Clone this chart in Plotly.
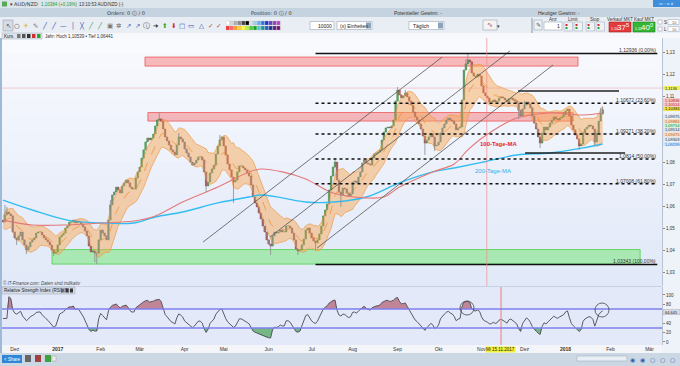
import numpy as np
import pandas as pd
import plotly.graph_objects as go

# ---------------- data ----------------
start_date = "2016-11-23"
first_open = 1.0536
closes = [
    1.0527, 1.0559, 1.0573, 1.0564, 1.0555, 1.0482, 1.0455, 1.0446, 1.0464, 1.0482,
    1.0446, 1.0423, 1.0400, 1.0414, 1.0436, 1.0446, 1.0455, 1.0477, 1.0482, 1.0482,
    1.0468, 1.0455, 1.0446, 1.0436, 1.0423, 1.0400, 1.0386, 1.0391, 1.0423, 1.0459,
    1.0468, 1.0477, 1.0500, 1.0509, 1.0527, 1.0527, 1.0536, 1.0523, 1.0532, 1.0527,
    1.0518, 1.0505, 1.0486, 1.0464, 1.0418, 1.0391, 1.0396, 1.0386, 1.0386, 1.0446,
    1.0491, 1.0477, 1.0464, 1.0446, 1.0536, 1.0605, 1.0650, 1.0664, 1.0686, 1.0673,
    1.0659, 1.0691, 1.0705, 1.0718, 1.0705, 1.0686, 1.0677, 1.0677, 1.0727, 1.0755,
    1.0777, 1.0818, 1.0855, 1.0891, 1.0909, 1.0900, 1.0909, 1.0927, 1.0964, 1.0991,
    1.0996, 1.0986, 1.0950, 1.0914, 1.0896, 1.0877, 1.0855, 1.0845, 1.0832, 1.0877,
    1.0914, 1.0905, 1.0891, 1.0859, 1.0841, 1.0823, 1.0800, 1.0786, 1.0795, 1.0809,
    1.0823, 1.0823, 1.0809, 1.0755, 1.0691, 1.0709, 1.0750, 1.0768, 1.0786, 1.0836,
    1.0873, 1.0900, 1.0914, 1.0873, 1.0832, 1.0791, 1.0764, 1.0732, 1.0709, 1.0718,
    1.0755, 1.0782, 1.0782, 1.0773, 1.0764, 1.0750, 1.0736, 1.0696, 1.0641, 1.0614,
    1.0596, 1.0568, 1.0541, 1.0509, 1.0482, 1.0446, 1.0427, 1.0418, 1.0464, 1.0482,
    1.0477, 1.0482, 1.0491, 1.0482, 1.0482, 1.0509, 1.0509, 1.0500, 1.0477, 1.0446,
    1.0405, 1.0396, 1.0400, 1.0423, 1.0450, 1.0491, 1.0500, 1.0477, 1.0455, 1.0441,
    1.0432, 1.0446, 1.0473, 1.0509, 1.0555, 1.0582, 1.0609, 1.0673, 1.0736, 1.0777,
    1.0800, 1.0718, 1.0664, 1.0650, 1.0682, 1.0677, 1.0659, 1.0646, 1.0655, 1.0709,
    1.0714, 1.0705, 1.0732, 1.0755, 1.0795, 1.0809, 1.0795, 1.0791, 1.0786, 1.0818,
    1.0836, 1.0841, 1.0845, 1.0855, 1.0900, 1.0936, 1.0955, 1.0959, 1.0955, 1.0964,
    1.0991, 1.1077, 1.1127, 1.1105, 1.1091, 1.1100, 1.1114, 1.1096, 1.1077, 1.1059,
    1.1027, 1.1005, 1.0991, 1.0973, 1.0950, 1.0918, 1.0886, 1.0900, 1.0914, 1.0927,
    1.0914, 1.0873, 1.0877, 1.0891, 1.0932, 1.0955, 1.0973, 1.0991, 1.1000, 1.0991,
    1.0986, 1.0973, 1.0946, 1.0955, 1.0959, 1.1082, 1.1218, 1.1246, 1.1264, 1.1255,
    1.1205, 1.1191, 1.1186, 1.1200, 1.1191, 1.1146, 1.1114, 1.1100, 1.1091, 1.1073,
    1.1073, 1.1082, 1.1073, 1.1077, 1.1091, 1.1096, 1.1091, 1.1082, 1.1073, 1.1087,
    1.1091, 1.1082, 1.1077, 1.1068, 1.1036, 1.1009, 1.1041, 1.1059, 1.1073, 1.1064,
    1.1046, 1.1009, 1.0977, 1.0950, 1.0914, 1.0886, 1.0932, 1.0959, 1.0946, 1.0959,
    1.0977, 1.0991, 1.1005, 1.0996, 1.0991, 1.1000, 1.1005, 1.1014, 1.1032, 1.1041,
    1.1009, 1.0968, 1.0946, 1.0923, 1.0905, 1.0873, 1.0882, 1.0932, 1.0950, 1.0959,
    1.0968, 1.0964, 1.0950, 1.0891, 1.0932, 1.0986, 1.1018, 1.1038,
]
# visible long wicks (day index -> extreme)
wick_highs = {1: 1.0605, 2: 1.0596, 55: 1.0627, 80: 1.1023, 90: 1.0932, 104: 1.0714,
              111: 1.0923, 170: 1.0818, 202: 1.1141, 206: 1.1127, 238: 1.1294,
              237: 1.1268, 267: 1.1077, 287: 1.1027, 306: 1.1046, 307: 1.1050}
wick_lows = {7: 1.0423, 12: 1.0382, 26: 1.0373, 47: 1.0345, 48: 1.0336, 104: 1.0664,
             118: 1.0614, 137: 1.0377, 151: 1.0377, 160: 1.0400, 173: 1.0596,
             216: 1.0832, 221: 1.0850, 264: 1.0995, 275: 1.0864, 295: 1.0855, 303: 1.0873}

ma100_idx = [0, 15, 33, 50, 67, 78, 92, 110, 126, 132, 143, 155, 169, 186, 195, 203, 220, 231, 238, 246, 263, 280, 297, 307]
ma100_val = [1.0536, 1.0514, 1.0514, 1.0523, 1.0532, 1.0555, 1.0618, 1.0686, 1.0755, 1.0768, 1.0755, 1.0723,
             1.0659, 1.0637, 1.0641, 1.0686, 1.0755, 1.0791, 1.0855, 1.0914, 1.1000, 1.1023, 1.1014, 1.1023]
ma200_idx = [0, 15, 33, 50, 67, 78, 92, 110, 126, 132, 143, 155, 169, 186, 203, 220, 231, 246, 263, 280, 297, 307]
ma200_val = [1.0627, 1.0582, 1.0536, 1.0523, 1.0523, 1.0550, 1.0573, 1.0614, 1.0641, 1.0650, 1.0637, 1.0618,
             1.0618, 1.0641, 1.0705, 1.0755, 1.0773, 1.0800, 1.0832, 1.0841, 1.0864, 1.0882]

band_period, band_k = 10, 2.5
rsi_last_label = 64.645

fib_high, fib_low = 1.12936, 1.03343
fib_pcts = [0.0, 23.6, 38.2, 50.0, 61.8, 100.0]
fib_start_idx = 160
fib_end_idx = 335

# zones: (x0 idx, x1 idx, low price, high price)
red_zones = [(72.7, 294.4, 1.1236, 1.1277), (74.2, 291.9, 1.0986, 1.1025)]
green_zones = [(25.1, 326.2, 1.0336, 1.0402)]
# trend channel lines: (idx0, price0, idx1, price1)
channel_lines = [(102.4, 1.0436, 224.8, 1.1277), (136.7, 1.0459, 259.6, 1.1305), (160.8, 1.0409, 281.6, 1.1241)]
# support/resistance segments
level_lines = [(263.7, 315.4, 1.1123), (267.3, 318.5, 1.0841)]
crosshair_price = 1.1136
crosshair_idx_main = 247.7
crosshair_date = "2017-11-15"
price_ticks = [1.03, 1.04, 1.05, 1.06, 1.07, 1.08, 1.11, 1.12, 1.13]
rsi_ticks = [0, 20, 40, 80, 100]

month_names = {1: "Jan", 2: "Feb", 3: "Mär", 4: "Apr", 5: "Mai", 6: "Jun", 7: "Jul",
               8: "Aug", 9: "Sep", 10: "Okt", 11: "Nov", 12: "Dez"}

# ---------------- derived series ----------------
c = np.array(closes)
n = len(c)
idx = np.arange(n)
o = np.r_[first_open, c[:-1]]
hi = np.maximum(o, c)
lo = np.minimum(o, c)
for k, v in wick_highs.items():
    hi[k] = max(hi[k], v)
for k, v in wick_lows.items():
    lo[k] = min(lo[k], v)

s = pd.Series(c)
# envelope: EMA centre +/- k * ATR
mid = s.ewm(span=band_period, adjust=False).mean()
tr = pd.Series(hi - lo)
atr = tr.ewm(alpha=1 / band_period, adjust=False).mean()
bb_up, bb_dn = mid + band_k * atr, mid - band_k * atr

d = s.diff()
ag = d.clip(lower=0).ewm(alpha=1 / 9, adjust=False).mean()
al = (-d.clip(upper=0)).ewm(alpha=1 / 9, adjust=False).mean()
rsi = (100 - 100 / (1 + ag / al.replace(0, np.nan))).fillna(50)

all_days = pd.bdate_range(start_date, "2018-03-31")
tickvals, ticktext = [], []
prev_m = None
for i, dt in enumerate(all_days):
    if dt.month != prev_m:
        if prev_m is not None:
            tickvals.append(i)
            ticktext.append("<b>%d</b>" % dt.year if dt.month == 1 else month_names[dt.month])
        prev_m = dt.month
cross_rsi_idx = int(np.where(all_days == pd.Timestamp(crosshair_date))[0][0])

# ---------------- pixel helpers (layout only) ----------------
W, H = 680, 366
def X(px):
    return px / W
def Y(py):
    return 1 - py / H

shapes, annotations = [], []

def rect(x0, y0, x1, y1, fill, line=None, lw=0, layer="above"):
    shapes.append(dict(type="rect", xref="paper", yref="paper", x0=X(x0), x1=X(x1), y0=Y(y1), y1=Y(y0),
                       fillcolor=fill, line=dict(color=line or fill, width=lw), layer=layer))

def text(x, y, s_, size=6, color="#222", anchor="left", bg=None, font="Liberation Sans"):
    a = dict(xref="paper", yref="paper", x=X(x), y=Y(y), text=s_, showarrow=False, xanchor=anchor,
             yanchor="middle", font=dict(size=size, color=color, family=font), borderpad=0)
    if bg:
        a["bgcolor"] = bg
    annotations.append(a)

# ---------------- backgrounds ----------------
rect(0, 0, 680, 366, "#e8eef6", layer="below")
top_c = np.array([248, 250, 254]); bot_c = np.array([226, 233, 248])
nb = 16
for k in range(nb):
    y0 = 38 + k * (286 - 38) / nb
    y1 = 38 + (k + 1) * (286 - 38) / nb
    col = top_c + (bot_c - top_c) * k / (nb - 1)
    rect(0, y0, 662, y1 + 0.5, "rgb(%d,%d,%d)" % tuple(col), layer="below")
rect(0, 286, 662, 345, "#e3e9f8", layer="below")
rect(662, 38, 680, 353, "#eef2f9", layer="below")
rect(0, 345, 662, 353, "#f3f5f9", layer="below")
rect(0, 286, 662, 287, "#c6d2e4", layer="below")

# ---------------- traces ----------------
traces = []
traces.append(go.Scatter(x=idx, y=bb_dn, mode="lines", line=dict(color="rgba(240,150,60,0.8)", width=0.8),
                         hoverinfo="skip", showlegend=False))
traces.append(go.Scatter(x=idx, y=bb_up, mode="lines", line=dict(color="rgba(240,150,60,0.8)", width=0.8),
                         fill="tonexty", fillcolor="rgba(247,170,90,0.5)", hoverinfo="skip", showlegend=False))
traces.append(go.Scatter(x=idx, y=mid, mode="lines", line=dict(color="rgba(235,140,50,0.85)", width=0.8, dash="dash"),
                         hoverinfo="skip", showlegend=False))
traces.append(go.Scatter(x=ma200_idx, y=ma200_val, mode="lines", line=dict(color="#33bdf2", width=1.4, shape="spline"),
                         showlegend=False))
traces.append(go.Scatter(x=ma100_idx, y=ma100_val, mode="lines", line=dict(color="#e57878", width=1.1, shape="spline"),
                         showlegend=False))
wx, wy = [], []
for i in idx:
    wx += [i, i, None]
    wy += [lo[i], hi[i], None]
traces.append(go.Scatter(x=wx, y=wy, mode="lines", line=dict(color="#8a8a8a", width=0.8), hoverinfo="skip",
                         showlegend=False))
body_lo = np.minimum(o, c)
body_h = np.maximum(np.abs(c - o), 0.00012)
up = c >= o
traces.append(go.Bar(x=idx, y=body_h, base=body_lo, width=0.8,
                     marker=dict(color=np.where(up, "#3aa83a", "#c93a3a"),
                                 line=dict(color=np.where(up, "#1f6e1f", "#7a2020"), width=0.4)),
                     showlegend=False))

# RSI panel
traces.append(go.Scatter(x=idx, y=np.full(n, 70.0), mode="lines", line=dict(width=0), xaxis="x2", yaxis="y2",
                         hoverinfo="skip", showlegend=False))
traces.append(go.Scatter(x=idx, y=np.maximum(rsi, 70), mode="lines", line=dict(width=0), fill="tonexty",
                         fillcolor="rgba(180,100,120,0.75)", xaxis="x2", yaxis="y2", hoverinfo="skip", showlegend=False))
traces.append(go.Scatter(x=idx, y=np.full(n, 30.0), mode="lines", line=dict(width=0), xaxis="x2", yaxis="y2",
                         hoverinfo="skip", showlegend=False))
traces.append(go.Scatter(x=idx, y=np.minimum(rsi, 30), mode="lines", line=dict(width=0), fill="tonexty",
                         fillcolor="rgba(80,165,95,0.75)", xaxis="x2", yaxis="y2", hoverinfo="skip", showlegend=False))
traces.append(go.Scatter(x=idx, y=rsi, mode="lines", line=dict(color="#4a4a52", width=0.9), xaxis="x2", yaxis="y2",
                         showlegend=False))

fig = go.Figure(traces)

# ---------------- data-anchored decorations ----------------
for x0, x1, p0, p1 in red_zones:
    shapes.append(dict(type="rect", xref="x", yref="y", x0=x0, x1=x1, y0=p0, y1=p1,
                       fillcolor="rgba(245,120,120,0.5)", line=dict(color="rgba(235,90,90,0.8)", width=1), layer="below"))
for x0, x1, p0, p1 in green_zones:
    shapes.append(dict(type="rect", xref="x", yref="y", x0=x0, x1=x1, y0=p0, y1=p1,
                       fillcolor="rgba(120,230,120,0.55)", line=dict(color="rgba(90,210,90,0.9)", width=1), layer="below"))
for i0, p0, i1, p1 in channel_lines:
    shapes.append(dict(type="line", xref="x", yref="y", x0=i0, x1=i1, y0=p0, y1=p1,
                       line=dict(color="#555", width=0.8)))
for i0, i1, p in level_lines:
    shapes.append(dict(type="line", xref="x", yref="y", x0=i0, x1=i1, y0=p, y1=p,
                       line=dict(color="#222", width=1.5)))
for pct in fib_pcts:
    lvl = fib_high - (fib_high - fib_low) * pct / 100
    solid = pct in (0.0, 100.0)
    shapes.append(dict(type="line", xref="x", yref="y", x0=fib_start_idx, x1=fib_end_idx, y0=lvl, y1=lvl,
                       line=dict(color="#111", width=1.5, dash="solid" if solid else "dot")))
    lab = ("%.5f" % (lvl + 1e-9)).rstrip("0").replace(".", ",") + " (" + ("%.2f" % pct).replace(".", ",") + "%)"
    annotations.append(dict(xref="x", yref="y", x=fib_end_idx, y=lvl, text=lab, showarrow=False, xanchor="right",
                            yanchor="bottom", yshift=-1, borderpad=0,
                            font=dict(size=5, color="#333", family="Liberation Sans")))

# crosshair
shapes.append(dict(type="line", xref="paper", yref="y", x0=X(2), x1=X(662), y0=crosshair_price, y1=crosshair_price,
                   line=dict(color="rgba(240,150,150,0.45)", width=1)))
shapes.append(dict(type="line", xref="x", yref="paper", x0=crosshair_idx_main, x1=crosshair_idx_main, y0=Y(286), y1=Y(33),
                   line=dict(color="rgba(240,140,140,0.7)", width=1)))
shapes.append(dict(type="line", xref="x", yref="paper", x0=cross_rsi_idx, x1=cross_rsi_idx, y0=Y(345), y1=Y(287),
                   line=dict(color="rgba(240,140,140,0.8)", width=1.5)))
# RSI levels
for lv in (70, 30):
    shapes.append(dict(type="line", xref="paper", yref="y2", x0=X(2), x1=X(662), y0=lv, y1=lv,
                       line=dict(color="#7f7ff0", width=1.5)))
# RSI circles
for cx, cy in ((467, 308), (602, 310)):
    shapes.append(dict(type="circle", xref="paper", yref="paper", x0=X(cx - 7), x1=X(cx + 7), y0=Y(cy + 7), y1=Y(cy - 7),
                       line=dict(color="#444", width=0.8)))

annotations.append(dict(xref="x", yref="y", x=254, y=1.0882, text="<b>100-Tage-MA</b>", showarrow=False,
                        font=dict(size=6, color="#e8262c", family="Liberation Sans")))
annotations.append(dict(xref="x", yref="y", x=251, y=1.0759, text="200-Tage-MA", showarrow=False,
                        font=dict(size=6, color="#2fb2ea", family="Liberation Sans")))

# ---------------- UI chrome ----------------
rect(0, 0, 680, 8, "#dce4ec")
rect(0, 8, 680, 17, "#c5d3e0")
rect(0, 17, 680, 33, "#e9eef4")
rect(0, 33, 680, 38, "#f6f8fb")
rect(0, 353, 680, 366, "#cbd7e3")
rect(0, 38, 2, 353, "#9fbad6")
rect(653, 0, 680, 7, "#3e8ede")
text(666, 3.5, "▭ - ▫ x", size=4, color="white", anchor="center", font="DejaVu Sans")
rect(2, 1.5, 7, 6.5, "#5aa85a")
text(9, 4.5, "▾ AUD/NZD", size=5, color="#333", font="DejaVu Sans")
text(40, 4.5, "1,10384 (+0,19%)", size=4.5, color="#2a9a2a")
text(78, 4.5, "13:10:53 AUD/NZD (-)", size=4.5, color="#333")
text(106, 13, "Orders: 0 ⓘ / 0", size=5, color="#333", font="DejaVu Sans")
text(250, 13, "Position: 0 ⓘ / 0", size=5, color="#333", font="DejaVu Sans")
text(393, 13, "Potentieller Gewinn: -", size=5, color="#333")
text(537, 13, "Heutiger Gewinn: -", size=5, color="#333")
# tool icons
icons = [(8, "↖", "#444"), (17, "○", "#333"), (26, "☀", "#e0b000"), (35, "✎", "#777"), (45, "╱", "#2a4fb0"),
         (54, "╱", "#2a4fb0"), (63, "—", "#2a4fb0"), (73, "│", "#2a4fb0"), (82, "╳", "#2a4fb0"), (91, "╱", "#3a9a3a"),
         (100, "╱", "#3a9a3a"), (110, "▣", "#777"), (119, "✲", "#555"), (128, "↗", "#2a4fb0"), (137, "↗", "#2a4fb0"),
         (146, "ⓘ", "#555"), (155, "➜", "#222"), (164, "⬆", "#2aa82a"), (173, "⬇", "#d02a2a"), (182, "□", "#2a4fb0"),
         (191, "▭", "#2a4fb0"), (201, "△", "#2a4fb0"), (210, "✓", "#c03030"), (218, "✓", "#c03030")]
rect(3, 20, 13, 31, "#d4dbe4", line="#9aa6b4", lw=0.6)
for x_, ch, colr in icons:
    text(x_, 25.5, ch, size=6.5, color=colr, anchor="center", font="DejaVu Sans")
pal_top = ["#ffffff", "#d8d8d8", "#b0b0b0", "#888888", "#444444", "#000000", "#e0e0e0", "#9ad0f0", "#5ab0f0",
           "#3a70e0", "#2030d0", "#6040c0", "#9040c0", "#c040c0"]
pal_bot = ["#ff3030", "#ff6060", "#ff9a30", "#ffd030", "#ffff40", "#c0f040", "#40d040", "#20a020", "#40d0d0",
           "#2090a0", "#2060c0", "#203090", "#502090", "#801060"]
for k, colr in enumerate(pal_top):
    rect(226 + k * 3.9, 21, 229.5 + k * 3.9, 25, colr, line="#bbb", lw=0.3)
for k, colr in enumerate(pal_bot):
    rect(226 + k * 3.9, 26, 229.5 + k * 3.9, 30, colr, line="#bbb", lw=0.3)
rect(310, 21.5, 334, 29.5, "#ffffff", line="#9aa6b4", lw=0.6)
text(333, 25.5, "10000", size=5, color="#222", anchor="right")
rect(337, 21.5, 372, 29.5, "#ffffff", line="#9aa6b4", lw=0.6)
text(339, 25.5, "(x) Einheiten", size=5, color="#222")
rect(366, 22.5, 371, 28.5, "#8da3bc")
rect(409, 21.5, 444, 29.5, "#ffffff", line="#9aa6b4", lw=0.6)
text(412, 25.5, "Täglich", size=5, color="#222")
rect(438, 22.5, 443, 28.5, "#8da3bc")
rect(483, 20, 497, 30, "#f4f4f4", line="#9aa6b4", lw=0.6)
text(490, 25, "∿", size=7, color="#c03030", anchor="center", font="DejaVu Sans")
text(499, 25.5, "▾", size=5, color="#333", anchor="center", font="DejaVu Sans")
rect(531, 18, 533, 33, "#b8c4d0")
rect(534, 20, 542, 30, "#eef2f6", line="#9aa6b4", lw=0.6)
text(538, 25, "✎", size=6, color="#555", anchor="center", font="DejaVu Sans")
text(553, 19.5, "Anz", size=4.5, color="#333", anchor="center")
rect(544, 22, 562, 30, "#ffffff", line="#9aa6b4", lw=0.6)
text(561, 26, "1", size=5, color="#222", anchor="right")
text(573, 19.5, "Limit", size=4.5, color="#333", anchor="center")
text(595, 19.5, "Stop", size=4.5, color="#333", anchor="center")
for bx in (564, 574, 586, 596):
    rect(bx, 22, bx + 8.5, 31, "#eef2f6", line="#9aa6b4", lw=0.5)
    rect(bx + 1.5, 24, bx + 3.5, 26, "#d03030")
    rect(bx + 1.5, 27, bx + 3.5, 29, "#30a030")
text(620, 19.5, "Verkauf MKT", size=4.5, color="#333", anchor="center")
text(644, 19.5, "Kauf MKT", size=4.5, color="#333", anchor="center")
rect(609, 22, 631, 32, "#e23b3b", line="#b02020", lw=0.6)
text(610, 28.5, "1,10", size=3.5, color="white")
text(630, 27, "37<sup>5</sup>", size=8, color="white", anchor="right")
rect(633, 22, 655, 32, "#35b535", line="#208020", lw=0.6)
text(634, 28.5, "1,10", size=3.5, color="white")
text(654, 27, "40<sup>0</sup>", size=8, color="white", anchor="right")
for yy, lab in ((22.5, "S"), (29.5, "L")):
    rect(658, yy - 2.5, 662, yy + 1.5, "#ffffff", line="#8896a6", lw=0.5)
    text(663, yy, lab, size=4.5, color="#333")
    rect(668, yy - 3, 679, yy + 2, "#ffffff", line="#9aa6b4", lw=0.5)
    text(678, yy, "10", size=4, color="#666", anchor="right")
# Kurs row
rect(2, 33, 42, 39, "#dfe5ec", line="#a0aab6", lw=0.5)
text(3, 36, "Kurs", size=4.5, color="#222")
for k, colr in enumerate(["#777", "#555", "#333", "#d03030", "#30a030"]):
    rect(17 + k * 5, 34, 20.5 + k * 5, 38, colr)
text(44, 36, "Jahr: Hoch 1,10539 • Tief 1,06441", size=4.5, color="#333")
# copyright + RSI header
text(2, 283, "<i>© IT-Finance.com: Daten sind indikativ</i>", size=4.5, color="#444")
rect(2, 287, 75, 294, "#d5dce6", line="#9aa6b4", lw=0.5)
text(3, 290.5, "Relative Strength Index (RSI) (9)", size=4.5, color="#222")
for k, colr in enumerate(["#777", "#444", "#333"]):
    rect(61 + k * 4.5, 288.5, 64 + k * 4.5, 292.5, colr)
# date label
text(500, 349, "Mi 15.11.2017", size=4.5, color="#222", anchor="center", bg="#f2f23a")
# right axis value labels
axis_labels = [(88, "1,1136", "#f0f060", "#222"), (100.3, "1,10836", "#f7c6c6", "#c02020"),
               (104.6, "1,10514", "#f7c6c6", "#c02020"), (108.9, "1,10384", "#f0e040", "#222"),
               (116, "1,09975", "#e0e6ee", "#333"), (121, "1,09884", "#f6dcc0", "#c06010"),
               (125.5, "1,09714", "#d4f0d4", "#208020"), (130, "1,09514", "#e0e6ee", "#333"),
               (134.5, "1,09475", "#f6dcc0", "#c06010"), (139, "1,09303", "#e0e6ee", "#333"),
               (144, "1,09299", "#cfe6fa", "#2060c0")]
for yy, lab, bgc, fc in axis_labels:
    rect(663, yy - 2.1, 680, yy + 2.1, bgc)
    text(664, yy, lab, size=4, color=fc)
rect(663, 309.5, 680, 314.5, "#d8dde6", line="#999", lw=0.4)
text(664, 312, ("%.3f" % rsi_last_label).replace(".", ","), size=4, color="#222")
# bottom bar
rect(2, 355, 22, 363, "#2f86d8")
text(12, 359, "< Share", size=4.5, color="white", anchor="center")
for k, colr in enumerate(["#666", "#a04040", "#40a040"]):
    rect(25 + k * 10, 355, 31 + k * 10, 362, colr)
rect(52, 356, 56, 361, "#eee", line="#888", lw=0.4)
rect(577, 356, 627, 361, "#e8eef4", line="#9aa6b4", lw=0.5)
for k in range(5):
    text(632 + k * 10, 359, "○" if k > 1 else "◉", size=6, color="#2a5fb0", anchor="center", font="DejaVu Sans")

fig.update_layout(
    width=W, height=H, margin=dict(l=0, r=0, t=0, b=0),
    paper_bgcolor="#e8eef6", plot_bgcolor="rgba(0,0,0,0)",
    separators=",.", barmode="overlay", bargap=0, showlegend=False,
    font=dict(family="Liberation Sans", size=6, color="#333"),
    xaxis=dict(domain=[X(2), X(662)], range=[-0.51, 337.4], anchor="y", showticklabels=False,
               showgrid=False, zeroline=False, ticks=""),
    yaxis=dict(domain=[Y(286), Y(38)], range=[1.15364 - 286 / 2200, 1.15364 - 38 / 2200], side="right",
               anchor="x", tickvals=price_ticks, tickformat=".2f",
               ticks="outside", ticklen=2, tickcolor="#888", showgrid=False, zeroline=False,
               showline=True, linecolor="#b8c2d0", tickfont=dict(size=4.5, color="#333")),
    xaxis2=dict(domain=[X(2), X(662)], range=[-0.51, 337.4], anchor="y2", matches="x",
                tickvals=tickvals, ticktext=ticktext, ticks="", showgrid=False, zeroline=False,
                tickfont=dict(size=5, color="#333")),
    yaxis2=dict(domain=[Y(345), Y(287)], range=[-6.4, 117], side="right", anchor="x2",
                tickvals=rsi_ticks, ticks="outside", ticklen=2, tickcolor="#888",
                showgrid=False, zeroline=False, showline=True, linecolor="#b8c2d0",
                tickfont=dict(size=4.5, color="#333")),
    shapes=shapes, annotations=annotations,
)
fig.write_html("out.html", config={"displayModeBar": False, "staticPlot": True},
               post_script="document.body.style.margin='0px';document.body.style.overflow='hidden';")
